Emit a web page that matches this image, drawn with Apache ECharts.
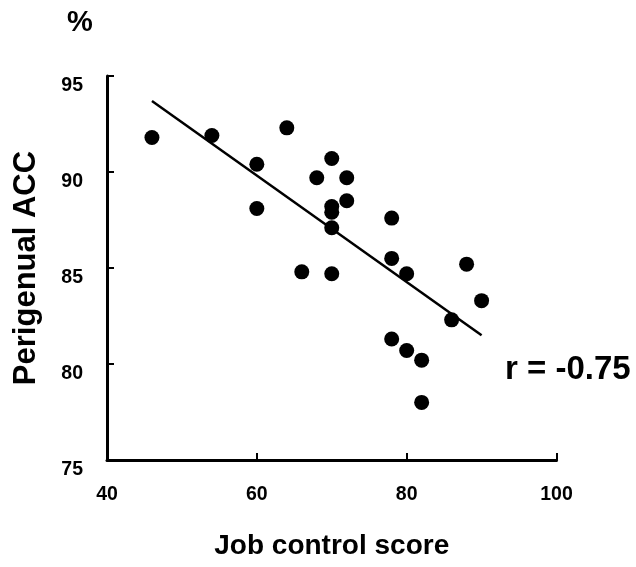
<!DOCTYPE html>
<html>
<head>
<meta charset="utf-8">
<script src="https://cdn.jsdelivr.net/npm/echarts@6/dist/echarts.min.js"></script>
<style>
html,body{margin:0;padding:0;background:#fff;}
#chart{width:636px;height:567px;}
</style>
</head>
<body>
<div id="chart"></div>
<script>
var jobControl = [46,54,60,60,64,66,68,70,70,70,70,70,72,72,78,78,78,80,80,82,82,86,88,90];
var accValues = [91.8,91.9,90.4,88.1,92.3,84.8,89.7,90.7,88.2,87.9,87.1,84.7,89.7,88.5,87.6,85.5,81.3,84.7,80.7,80.2,78.0,82.3,85.2,83.3];
var fitX = [46, 90];
var fitY = [93.7, 81.5];
var xTicks = [40, 60, 80, 100];
var yTicks = [75, 80, 85, 90, 95];
var xName = 'Job control score';
var yName = 'Perigenual ACC';
var unitLabel = '%';
var corrLabel = 'r = -0.75';

var FONT = '"Liberation Sans", Arial, sans-serif';
var chart = echarts.init(document.getElementById('chart'), null, {renderer: 'canvas'});

var points = jobControl.map(function (x, i) { return [x, accValues[i]]; });
var fit = fitX.map(function (x, i) { return [x, fitY[i]]; });

chart.setOption({
  backgroundColor: '#fff',
  animation: false,
  grid: {left: 107, right: 79.5, top: 76, bottom: 107, outerBoundsMode: 'none'},
  xAxis: {
    type: 'value', min: xTicks[0], max: xTicks[xTicks.length - 1], interval: 20,
    name: xName, nameLocation: 'middle', nameGap: 72,
    nameTextStyle: {fontFamily: FONT, fontWeight: 'bold', fontSize: 28, color: '#000'},
    axisLine: {show: true, lineStyle: {color: '#000', width: 3}},
    axisTick: {show: true, inside: true, length: 7, lineStyle: {color: '#000', width: 2}},
    axisLabel: {fontFamily: FONT, fontWeight: 'bold', fontSize: 19.5, color: '#000', margin: 25},
    splitLine: {show: false}
  },
  yAxis: {
    type: 'value', min: yTicks[0], max: yTicks[yTicks.length - 1], interval: 5,
    name: yName, nameLocation: 'middle', nameGap: 65, nameRotate: 90,
    nameTextStyle: {fontFamily: FONT, fontWeight: 'bold', fontSize: 31, color: '#000'},
    axisLine: {show: true, lineStyle: {color: '#000', width: 3}},
    axisTick: {show: true, inside: true, length: 7, lineStyle: {color: '#000', width: 2}},
    axisLabel: {
      color: '#000', margin: 24,
      formatter: function (v) { return '{a|' + v + '}'; },
      rich: {a: {fontFamily: FONT, fontWeight: 'bold', fontSize: 19.5, color: '#000', padding: [20, 0, 0, 0]}}
    },
    splitLine: {show: false}
  },
  graphic: [
    {type: 'text', left: 67, top: 8, style: {text: unitLabel, fontFamily: FONT, fontWeight: 'bold', fontSize: 29, fill: '#000'}},
    {type: 'text', left: 505, top: 353, style: {text: corrLabel, fontFamily: FONT, fontWeight: 'bold', fontSize: 33, fill: '#000'}}
  ],
  series: [
    {
      type: 'line', data: fit, symbol: 'none', z: 1,
      lineStyle: {color: '#000', width: 2.5}
    },
    {
      type: 'scatter', data: points, symbol: 'circle', symbolSize: 15, z: 2,
      itemStyle: {color: '#000', opacity: 1}
    }
  ]
});
</script>
</body>
</html>
